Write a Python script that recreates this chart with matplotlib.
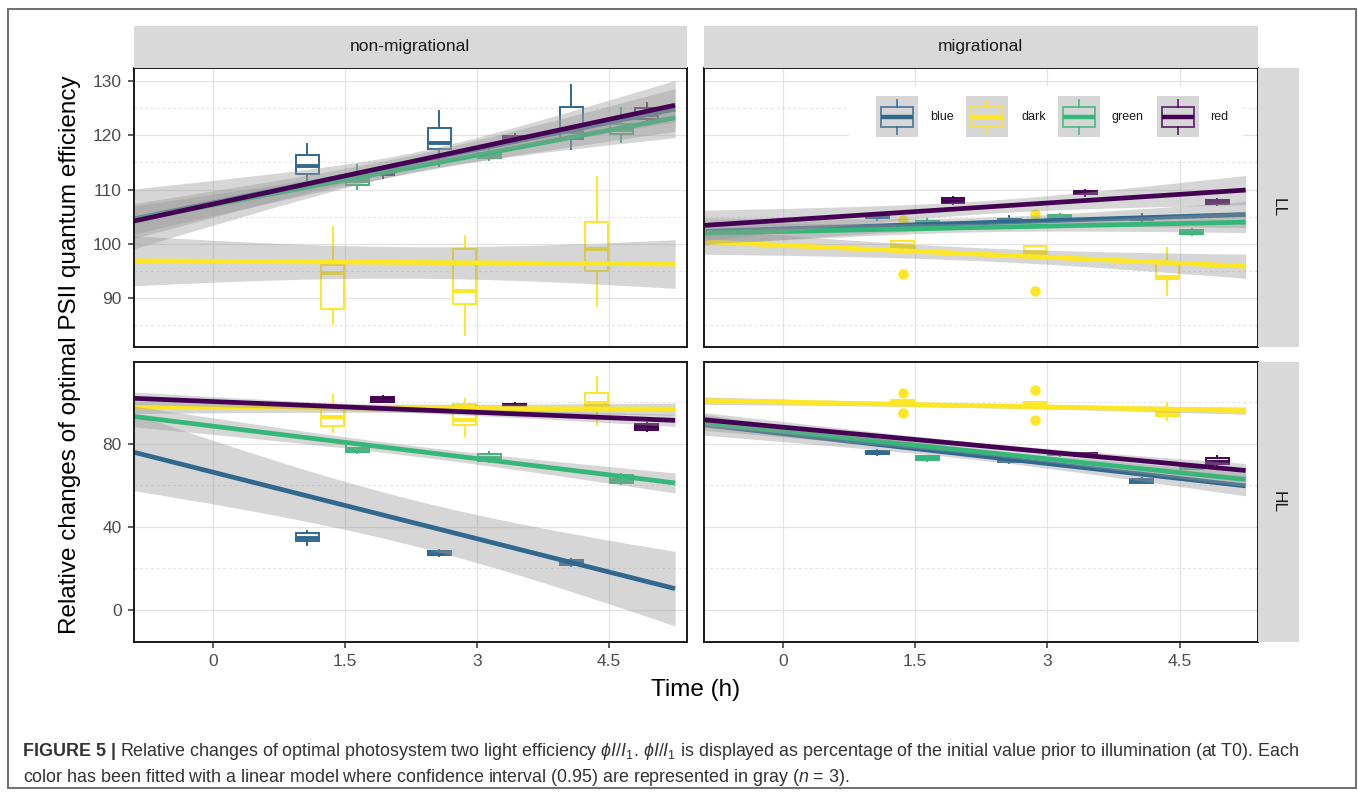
import numpy as np
import matplotlib
matplotlib.use('Agg')
import matplotlib.pyplot as plt
from matplotlib.patches import Rectangle
from matplotlib.lines import Line2D
from matplotlib import font_manager

W, H = 1358, 796
DPI = 100

available = {f.name for f in font_manager.fontManager.ttflist}
CAP_FONT = 'Liberation Sans Narrow' if 'Liberation Sans Narrow' in available else 'Liberation Sans'

plt.rcParams['font.family'] = ['Liberation Sans', 'DejaVu Sans']
plt.rcParams['mathtext.fontset'] = 'custom'
plt.rcParams['mathtext.rm'] = CAP_FONT
plt.rcParams['mathtext.it'] = CAP_FONT + ':italic'

# ---------------- data ----------------
series = ['blue', 'dark', 'green', 'red']
series_colors = ['#31688E', '#FDE725', '#35B779', '#440154']
times = [1.5, 3.0, 4.5]
col_labels = ['non-migrational', 'migrational']
row_labels = ['LL', 'HL']
x_ticks = [0, 1.5, 3, 4.5]
x_tick_labels = ['0', '1.5', '3', '4.5']
y_ticks_LL = [90, 100, 110, 120, 130]
y_minor_LL = [85, 95, 105, 115, 125]
y_ticks_HL = [0, 40, 80]
y_minor_HL = [20, 60, 100]

# boxplot stats per time point: (lower whisker, Q1, median, Q3, upper whisker)
box_LL_nonmig = {
    'blue':  [(111.8, 112.9, 114.3, 116.4, 118.4), (114.3, 117.4, 118.5, 121.4, 124.5), (117.4, 119.2, 120.5, 125.1, 129.2)],
    'dark':  [(85.3, 88.1, 94.6, 96.1, 103.2), (83.2, 89.0, 91.3, 99.1, 101.5), (88.6, 95.1, 99.0, 104.1, 112.3)],
    'green': [(110.1, 110.9, 111.5, 112.1, 114.6), (115.4, 115.8, 116.3, 116.8, 117.6), (118.7, 120.3, 121.0, 122.0, 124.9)],
    'red':   [(112.2, 112.6, 113.0, 113.3, 113.7), (118.5, 118.9, 119.3, 119.8, 120.3), (122.6, 123.0, 123.7, 124.9, 125.9)],
}
box_LL_mig = {
    'blue':  [(104.4, 104.7, 105.0, 105.3, 105.6), (103.8, 104.0, 104.3, 104.6, 105.1), (104.2, 104.4, 104.6, 105.0, 105.5)],
    'dark':  [(99.2, 99.2, 99.8, 100.5, 100.5), (98.1, 98.1, 98.6, 99.6, 99.6), (90.6, 93.6, 93.9, 96.7, 99.2)],
    'green': [(103.5, 103.7, 104.0, 104.3, 104.5), (104.5, 104.7, 105.0, 105.3, 105.5), (101.6, 101.8, 102.2, 102.6, 102.8)],
    'red':   [(107.3, 107.5, 107.9, 108.4, 108.6), (108.9, 109.1, 109.4, 109.8, 110.0), (107.2, 107.4, 107.8, 108.1, 108.3)],
}
box_HL_nonmig = {
    'blue':  [(31.5, 33.3, 34.5, 37.1, 38.2), (25.8, 26.3, 27.0, 28.3, 28.8), (21.3, 21.8, 22.8, 24.2, 24.7)],
    'dark':  [(85.4, 88.6, 93.0, 96.5, 103.5), (83.5, 89.1, 91.5, 99.1, 101.5), (89.1, 97.9, 99.4, 104.5, 112.2)],
    'green': [(75.5, 76.1, 77.6, 79.6, 80.3), (71.0, 71.6, 73.0, 74.8, 76.0), (60.5, 61.3, 62.5, 64.8, 65.5)],
    'red':   [(99.8, 100.2, 101.4, 102.6, 103.0), (97.6, 97.9, 98.5, 99.1, 99.4), (86.0, 86.7, 88.0, 89.6, 90.0)],
}
box_HL_mig = {
    'blue':  [(74.6, 74.9, 75.7, 76.5, 76.8), (70.8, 71.1, 72.2, 73.2, 73.5), (60.9, 61.3, 62.2, 63.2, 63.6)],
    'dark':  [(98.6, 98.6, 99.8, 101.0, 101.0), (97.1, 97.1, 98.6, 100.2, 100.2), (91.2, 93.4, 94.7, 96.3, 99.4)],
    'green': [(71.8, 72.1, 73.0, 74.0, 74.3), (74.2, 74.5, 75.0, 75.6, 75.9), (67.8, 68.0, 68.4, 68.9, 69.2)],
    'red':   [(75.3, 75.6, 76.5, 77.5, 77.8), (73.8, 74.0, 74.6, 75.3, 75.6), (69.6, 70.0, 71.1, 73.2, 74.0)],
}
outliers_LL_mig_dark = [[104.4, 94.4], [105.5, 91.3], []]
outliers_HL_mig_dark = [[104.5, 94.7], [105.8, 91.5], []]

# linear fits: value at start / end of the fitted range, and CI half-width (narrowest, at edge)
fit_x = [-0.9, 5.25]
fit_LL_nonmig = {'blue': (104.6, 124.8), 'dark': (96.9, 96.3), 'green': (104.4, 123.2), 'red': (104.2, 125.5)}
ci_LL_nonmig = {'blue': (1.8, 5.5), 'dark': (2.9, 4.6), 'green': (1.0, 2.6), 'red': (1.2, 3.2)}
fit_LL_mig = {'blue': (102.3, 105.4), 'dark': (100.4, 95.9), 'green': (102.0, 104.0), 'red': (103.4, 109.9)}
ci_LL_mig = {'blue': (1.0, 2.5), 'dark': (1.2, 2.3), 'green': (0.8, 2.0), 'red': (1.2, 2.8)}
fit_HL_nonmig = {'blue': (75.9, 10.3), 'dark': (97.5, 96.6), 'green': (93.1, 61.1), 'red': (101.8, 91.2)}
ci_HL_nonmig = {'blue': (11.0, 18.5), 'dark': (2.0, 3.0), 'green': (2.5, 5.0), 'red': (1.5, 3.0)}
fit_HL_mig = {'blue': (89.1, 59.7), 'dark': (100.7, 95.9), 'green': (89.9, 62.8), 'red': (91.5, 67.1)}
ci_HL_mig = {'blue': (2.0, 5.0), 'dark': (1.0, 1.8), 'green': (1.5, 3.5), 'red': (1.5, 3.5)}

# ---------------- layout ----------------
fig = plt.figure(figsize=(W / DPI, H / DPI), dpi=DPI)

def fig_rect(x0, x1, y0, y1):
    return [x0 / W, 1 - y1 / H, (x1 - x0) / W, (y1 - y0) / H]

col_px = [(133.7, 687.0), (703.6, 1257.5)]
row_px = [(67.7, 346.7), (361.7, 641.7)]
ylims = [(81.1, 132.4), (-15.2, 119.4)]
xlim = (-0.9, 5.385)
dodge = [-0.43, -0.14, 0.14, 0.43]
box_w = 0.26

panels = {
    (0, 0): (box_LL_nonmig, fit_LL_nonmig, ci_LL_nonmig, None),
    (0, 1): (box_LL_mig, fit_LL_mig, ci_LL_mig, outliers_LL_mig_dark),
    (1, 0): (box_HL_nonmig, fit_HL_nonmig, ci_HL_nonmig, None),
    (1, 1): (box_HL_mig, fit_HL_mig, ci_HL_mig, outliers_HL_mig_dark),
}

GRID = '#E3E3E3'
for (r, c), (boxes, fits, cis, outl) in panels.items():
    ax = fig.add_axes(fig_rect(col_px[c][0], col_px[c][1], row_px[r][0], row_px[r][1]))
    ax.set_xlim(*xlim)
    ax.set_ylim(*ylims[r])
    ax.set_xticks(x_ticks)
    ax.set_xticklabels(x_tick_labels if r == 1 else [])
    if r == 0:
        ax.set_yticks(y_ticks_LL)
        ax.set_yticks(y_minor_LL, minor=True)
    else:
        ax.set_yticks(y_ticks_HL)
        ax.set_yticks(y_minor_HL, minor=True)
    if c == 1:
        ax.set_yticklabels([])
    ax.tick_params(axis='both', which='major', length=4, width=1.1, color='#333333',
                   labelcolor='#4D4D4D', labelsize=12.5)
    ax.tick_params(axis='x', which='major', pad=5)
    ax.tick_params(axis='y', which='major', pad=4.5)
    ax.tick_params(axis='y', which='minor', length=0)
    ax.tick_params(axis='x', which='major', length=4 if r == 1 else 0)
    ax.tick_params(axis='y', which='major', length=4 if c == 0 else 0)
    ax.grid(True, which='major', color=GRID, lw=0.9)
    ax.grid(True, which='minor', axis='y', color=GRID, lw=0.8, ls=(0, (2.5, 2.5)))
    ax.set_axisbelow(True)
    for s in ax.spines.values():
        s.set_color('#1A1A1A')
        s.set_linewidth(1.4)
        s.set_zorder(10)

    # boxplots
    for si, name in enumerate(series):
        col = series_colors[si]
        stats = []
        for ti, t in enumerate(times):
            lo, q1, med, q3, hi = boxes[name][ti]
            fl = outl[ti] if (outl is not None and name == 'dark') else []
            stats.append(dict(whislo=lo, q1=q1, med=med, q3=q3, whishi=hi, fliers=fl))
        pos = [t + dodge[si] for t in times]
        ax.bxp(stats, positions=pos, widths=box_w, patch_artist=True, showcaps=False,
               boxprops=dict(facecolor='white', edgecolor=col, linewidth=1.4),
               whiskerprops=dict(color=col, linewidth=1.4),
               medianprops=dict(color=col, linewidth=2.8, solid_capstyle='butt'),
               flierprops=dict(marker='o', markerfacecolor=col, markeredgecolor=col,
                               markersize=6.5, linestyle='none'),
               manage_ticks=False, zorder=2)

    # fits with confidence ribbons (drawn per group: ribbon then line)
    xs = np.linspace(fit_x[0], fit_x[1], 80)
    for si, name in enumerate(series):
        y0, y1 = fits[name]
        w0, we = cis[name]
        yc = y0 + (y1 - y0) * (xs - fit_x[0]) / (fit_x[1] - fit_x[0])
        hw = np.sqrt(w0 ** 2 + (we ** 2 - w0 ** 2) * ((xs - 2.25) / 3.15) ** 2)
        ax.fill_between(xs, yc - hw, yc + hw, color='#999999', alpha=0.4, lw=0, zorder=3)
        ax.plot(fit_x, [y0, y1], color=series_colors[si], lw=3.4, zorder=3,
                solid_capstyle='butt')

# strips
STRIP = '#D9D9D9'
for c in range(2):
    sx = fig.add_axes(fig_rect(col_px[c][0], col_px[c][1], 26, row_px[0][0]))
    sx.set_facecolor(STRIP)
    sx.set_xticks([]); sx.set_yticks([])
    for s in sx.spines.values():
        s.set_visible(False)
    sx.text(0.5, 0.5, col_labels[c], ha='center', va='center', fontsize=12.5,
            color='#1A1A1A', transform=sx.transAxes)
for r in range(2):
    sx = fig.add_axes(fig_rect(col_px[1][1], 1299, row_px[r][0], row_px[r][1]))
    sx.set_facecolor(STRIP)
    sx.set_xticks([]); sx.set_yticks([])
    for s in sx.spines.values():
        s.set_visible(False)
    sx.text(0.5, 0.5, row_labels[r], ha='center', va='center', fontsize=12.5,
            color='#1A1A1A', rotation=-90, transform=sx.transAxes)

# axis titles
fig.text(70 / W, 1 - 354.7 / H, 'Relative changes of optimal PSII quantum efficiency',
         rotation=90, ha='center', va='center', fontsize=17.5, color='black')
fig.text(695.6 / W, 1 - 690 / H, 'Time (h)', ha='center', va='center', fontsize=17.5,
         color='black')

# legend (inside top-right panel)
def fx(x):
    return x / W

def fy(y):
    return 1 - y / H

tf = fig.transFigure
fig.patches.append(Rectangle((fx(849), fy(160)), (1243 - 849) / W, (160 - 86) / H,
                             facecolor='white', edgecolor='none', transform=tf, zorder=20))
key_x = [876, 966, 1057.5, 1157]
lab_x = [930, 1021.7, 1111.7, 1210]
for si, name in enumerate(series):
    col = series_colors[si]
    kx = key_x[si]
    fig.patches.append(Rectangle((fx(kx), fy(137)), 42 / W, 41 / H, facecolor='#D6D6D6',
                                 edgecolor='none', transform=tf, zorder=21))
    fig.patches.append(Rectangle((fx(kx + 5), fy(126.5)), 32 / W, 20 / H, facecolor='none',
                                 edgecolor=col, alpha=0.75, lw=1.4, transform=tf, zorder=22))
    fig.lines.append(Line2D([fx(kx + 21), fx(kx + 21)], [fy(100), fy(106.5)], color=col,
                            alpha=0.75, lw=1.4, transform=tf, zorder=22))
    fig.lines.append(Line2D([fx(kx + 21), fx(kx + 21)], [fy(126.5), fy(133.5)], color=col,
                            alpha=0.75, lw=1.4, transform=tf, zorder=22))
    fig.lines.append(Line2D([fx(kx + 5), fx(kx + 37)], [fy(116.5), fy(116.5)], color=col,
                            lw=3.2, transform=tf, zorder=23, solid_capstyle='butt'))
    fig.text(fx(lab_x[si]), fy(117), name, ha='left', va='center', fontsize=9,
             color='#1A1A1A', zorder=24)

# outer frame
fig.patches.append(Rectangle((fx(8), fy(788)), (1355.7 - 8) / W, (788 - 9) / H,
                             facecolor='none', edgecolor='#707070', lw=1.4, transform=tf,
                             zorder=30))

# caption
renderer = fig.canvas.get_renderer()
cap_size = 12.9
t1 = fig.text(fx(23), fy(752), 'FIGURE 5 |', ha='left', va='center', fontsize=cap_size,
              fontweight='bold', family=[CAP_FONT, 'DejaVu Sans'], color='#333333')
bb = t1.get_window_extent(renderer)
fig.text((bb.x1 + 4) / W, fy(752),
         r'Relative changes of optimal photosystem two light efficiency $\phi\mathit{I}/\mathit{I}_1$. '
         r'$\phi\mathit{I}/\mathit{I}_1$ is displayed as percentage of the initial value prior to '
         r'illumination (at T0). Each',
         ha='left', va='center', fontsize=cap_size, family=[CAP_FONT, 'DejaVu Sans'],
         color='#333333')
fig.text(fx(23), fy(777),
         r'color has been fitted with a linear model where confidence interval (0.95) are '
         r'represented in gray ($n$ = 3).',
         ha='left', va='center', fontsize=cap_size, family=[CAP_FONT, 'DejaVu Sans'],
         color='#333333')

fig.savefig('out.png', dpi=DPI)
